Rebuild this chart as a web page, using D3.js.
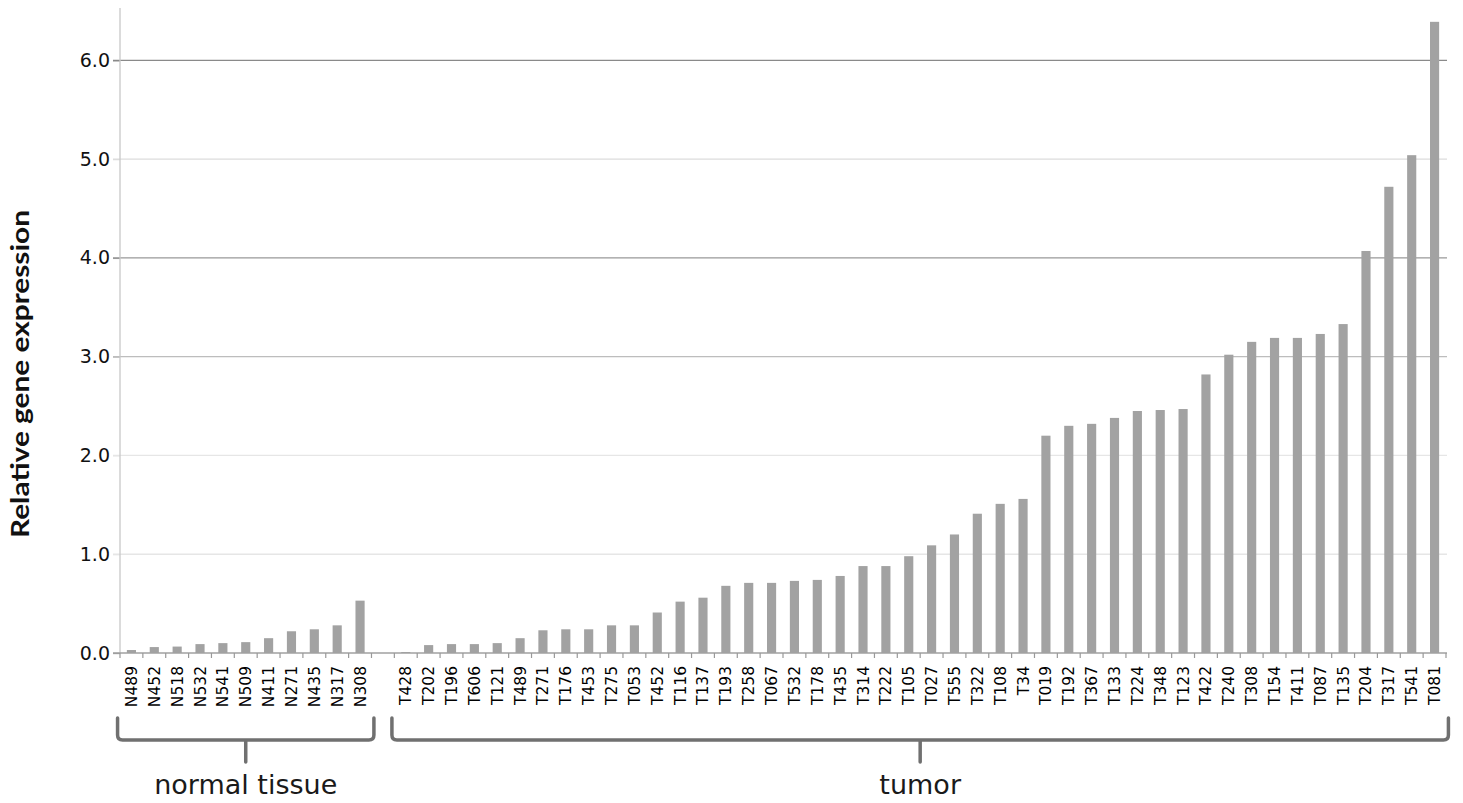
<!DOCTYPE html>
<html>
<head>
<meta charset="utf-8">
<script src="https://cdn.jsdelivr.net/npm/d3@7"></script>
<style>
html,body{margin:0;padding:0;background:#fff;}
svg{display:block;}
</style>
</head>
<body>
<svg id="chart" width="1463" height="803"></svg>
<script>
const normalLabels = ["N489","N452","N518","N532","N541","N509","N411","N271","N435","N317","N308"];
const normalValues = [0.03,0.06,0.065,0.09,0.10,0.11,0.15,0.22,0.24,0.28,0.53];
const tumorLabels = ["T428","T202","T196","T606","T121","T489","T271","T176","T453","T275","T053","T452","T116","T137","T193","T258","T067","T532","T178","T435","T314","T222","T105","T027","T555","T322","T108","T34","T019","T192","T367","T133","T224","T348","T123","T422","T240","T308","T154","T411","T087","T135","T204","T317","T541","T081"];
const tumorValues = [0.01,0.08,0.09,0.09,0.10,0.15,0.23,0.24,0.24,0.28,0.28,0.41,0.52,0.56,0.68,0.71,0.71,0.73,0.74,0.78,0.88,0.88,0.98,1.09,1.20,1.41,1.51,1.56,2.20,2.30,2.32,2.38,2.45,2.46,2.47,2.82,3.02,3.15,3.19,3.19,3.23,3.33,4.07,4.72,5.04,6.39];
const yTicks = [0,1,2,3,4,5,6];
const groupNames = ["normal tissue","tumor"];
const yTitle = "Relative gene expression";

const GAP = "__gap__";
const domain = [...normalLabels, GAP, ...tumorLabels];
const data = normalLabels.map((l,i)=>({label:l,value:normalValues[i]}))
  .concat(tumorLabels.map((l,i)=>({label:l,value:tumorValues[i]})));

const svg = d3.select("#chart");
const x = d3.scaleBand().domain(domain).range([120,1446]).paddingInner(0.6).paddingOuter(0.3);
const y = d3.scaleLinear().domain([0,6.53]).range([653,8]);
const step = x.step();

// gridlines
const gridColor = {0:"none",1:"#e6e6e6",2:"#e6e6e6",3:"#bdbdbd",4:"#999",5:"#dcdcdc",6:"#8a8a8a"};
svg.append("g").selectAll("line").data(yTicks.filter(t=>t>0)).join("line")
  .attr("x1",113).attr("x2",1447)
  .attr("y1",d=>y(d)).attr("y2",d=>y(d))
  .attr("stroke",d=>gridColor[d]).attr("stroke-width",1.3);

// y axis
const yAxis = d3.axisLeft(y).tickValues(yTicks).tickFormat(d3.format(".1f")).tickSize(7).tickPadding(3);
const gy = svg.append("g").attr("transform","translate(120,0)").call(yAxis);
gy.select(".domain").remove();
gy.selectAll(".tick line").attr("stroke",(d)=>d===0?"#999":gridColor[d]).attr("stroke-width",1.3);
gy.selectAll(".tick text").attr("font-family","DejaVu Sans, Verdana, sans-serif").attr("font-size",19).attr("fill","#111");
svg.append("line").attr("x1",120).attr("x2",120).attr("y1",y(0)).attr("y2",y(6.53))
  .attr("stroke","#c8c8c8").attr("stroke-width",1.3);

// bars
svg.append("g").selectAll("rect").data(data).join("rect")
  .attr("x",d=>x(d.label)).attr("width",x.bandwidth())
  .attr("y",d=>y(d.value)).attr("height",d=>y(0)-y(d.value))
  .attr("fill","#a2a2a2");

// x axis line
svg.append("line").attr("x1",113).attr("x2",1447).attr("y1",y(0)).attr("y2",y(0))
  .attr("stroke","#a0a0a0").attr("stroke-width",1.3);
// boundary ticks
const bounds = d3.range(domain.length+1).map(k=>120+k*step);
svg.append("g").selectAll("line").data(bounds).join("line")
  .attr("x1",d=>d).attr("x2",d=>d).attr("y1",y(0)).attr("y2",y(0)+5)
  .attr("stroke","#999").attr("stroke-width",1.2);

// x labels
svg.append("g").selectAll("text").data(domain.filter(d=>d!==GAP)).join("text")
  .attr("transform",d=>`translate(${x(d)+x.bandwidth()/2+5.5},${y(0)+13}) rotate(-90)`)
  .attr("text-anchor","end")
  .attr("font-family","DejaVu Sans, Verdana, sans-serif").attr("font-size",15.5).attr("fill","#000")
  .text(d=>d);

// y title
svg.append("text").attr("transform","translate(29,374) rotate(-90)")
  .attr("text-anchor","middle").attr("font-family","Lato, 'Open Sans', sans-serif")
  .attr("font-weight","bold").attr("font-size",24).attr("fill","#111")
  .attr("textLength",328).attr("lengthAdjust","spacingAndGlyphs")
  .text(yTitle);

// brackets
const groups = [
  {name:groupNames[0], first:normalLabels[0], last:normalLabels[normalLabels.length-1]},
  {name:groupNames[1], first:tumorLabels[0], last:tumorLabels[tumorLabels.length-1]}
];
const bTop = 718, bBot = 740, bStem = 762, r = 5;
groups.forEach(g=>{
  const x0 = x(g.first) - step*0.45 + 1;
  const x1 = x(g.last) + x.bandwidth() + step*0.45 - 1;
  const xm = (x0+x1)/2;
  const p = d3.path();
  p.moveTo(x0,bTop); p.lineTo(x0,bBot-r); p.quadraticCurveTo(x0,bBot,x0+r,bBot);
  p.lineTo(x1-r,bBot); p.quadraticCurveTo(x1,bBot,x1,bBot-r); p.lineTo(x1,bTop);
  p.moveTo(xm,bBot); p.lineTo(xm,bStem);
  svg.append("path").attr("d",p.toString()).attr("fill","none")
    .attr("stroke","#707070").attr("stroke-width",3.5).attr("stroke-linecap","round");
  svg.append("text").attr("x",xm).attr("y",794).attr("text-anchor","middle")
    .attr("font-family","DejaVu Sans, Verdana, sans-serif").attr("font-size",27).attr("fill","#1a1a1a")
    .text(g.name);
});
</script>
</body>
</html>
